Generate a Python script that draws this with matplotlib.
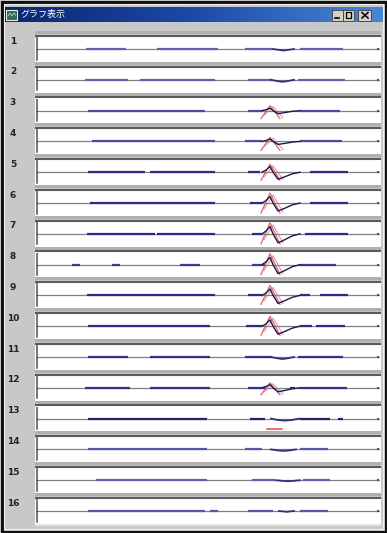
import matplotlib
matplotlib.use("Agg")
import matplotlib.pyplot as plt
from matplotlib.patches import Rectangle
import numpy as np

plt.rcParams['font.family'] = ['Noto Sans CJK JP', 'DejaVu Sans']

TITLE = "グラフ表示"
ROW_LABELS = ['1', '2', '3', '4', '5', '6', '7', '8',
              '9', '10', '11', '12', '13', '14', '15', '16']

# flat signal stretches on the baseline (start, end) per channel
SEGMENTS = [
    [(86, 126), (157, 218), (245, 272), (300, 343)],
    [(85, 128), (140, 215), (248, 272), (298, 345)],
    [(88, 205), (248, 262), (300, 340)],
    [(92, 215), (245, 262), (300, 342)],
    [(88, 145), (150, 215), (248, 260), (310, 348)],
    [(90, 215), (250, 262), (310, 348)],
    [(87, 155), (157, 215), (252, 262), (305, 348)],
    [(72, 80), (112, 120), (180, 200), (252, 265), (300, 336)],
    [(87, 215), (248, 262), (300, 310), (320, 348)],
    [(88, 210), (246, 262), (300, 312), (316, 345)],
    [(88, 128), (150, 210), (245, 272), (298, 343)],
    [(85, 130), (150, 210), (248, 265), (290, 295), (300, 347)],
    [(88, 207), (250, 265), (300, 330), (338, 343)],
    [(88, 207), (245, 262), (300, 328)],
    [(96, 207), (252, 275), (303, 330)],
    [(88, 205), (210, 218), (248, 273), (300, 328)],
]

# small negative dip after the event (start, end, depth) for quiet channels
DIPS = [(277, 290, 1.5), (275, 290, 2), None, None, None, None, None, None,
        None, None, (275, 290, 2), None, (275, 295, 2), (275, 292, 1.5),
        (280, 296, 1), (283, 290, 1)]

# evoked response per channel
RED_PEAK = [0, 0, 5, 4, 8, 10, 11, 11, 10, 10, 0, 5, 0, 0, 0, 0]
RED_DEPTH = [0, 0, 8, 9, 8, 10, 10, 10, 9, 9, 0, 7, 0, 0, 0, 0]
WAVE_AMP = [0, 0, 3, 3, 7, 8, 9, 9, 8, 8, 0, 4, 0, 0, 0, 0]

# response shapes read from channel 7
WAVE_DX = [0, 4, 8, 11, 16, 22, 30, 38]
WAVE_SHAPE = [0, 0.3, 0.8, 0, -1.0, -0.7, -0.25, 0]
RED_DX = [-9, 0, 10]
RED_DASH = {12: (267, 282, -10)}

SEG_COLORS = ['#6262ad', '#6262ad', '#4a4aa0', '#4a4aa0', '#2c2c8a', '#2c2c8a',
              '#2c2c8a', '#3a3a95', '#2c2c8a', '#2c2c8a', '#33338c', '#33338c',
              '#24246e', '#5656aa', '#6262b2', '#5656aa']

W, H = 387, 533
fig = plt.figure(figsize=(W / 100, H / 100), dpi=100)

bg = fig.add_axes([0, 0, 1, 1])
bg.set_xlim(0, W)
bg.set_ylim(H, 0)
bg.axis('off')

# window frame
bg.add_patch(Rectangle((0, 0), W, H, facecolor='#c8c8c8', edgecolor='none'))
bg.add_patch(Rectangle((1.5, 1.5), W - 3, H - 3, facecolor='none',
                       edgecolor='#111111', lw=2.2))
bg.add_patch(Rectangle((4, 4), W - 8, H - 8, facecolor='none',
                       edgecolor='#f0f0f0', lw=0.8))

# title bar
grad = np.linspace(0, 1, 256).reshape(1, -1)
cmap = matplotlib.colors.LinearSegmentedColormap.from_list(
    'tb', ['#0b2470', '#1c4aa8', '#4a86d6'])
bg.imshow(grad, cmap=cmap, aspect='auto', extent=(5, 383, 22, 7), zorder=2)
bg.add_patch(Rectangle((6, 9.5), 11, 10, facecolor='#2e6a52',
                       edgecolor='#e8e8e8', lw=0.8, zorder=3))
bg.plot([8, 10, 12, 14, 15.5], [16, 13, 16, 13, 15], color='#9fe0b0', lw=0.6, zorder=4)
bg.text(20, 15, TITLE, color='white', fontsize=6.5, va='center', ha='left', zorder=4)

for x0, w in [(332, 10.5), (343, 10.5), (358, 13)]:
    bg.add_patch(Rectangle((x0, 9.5), w, 11, facecolor='#d4d0c8',
                           edgecolor='#404040', lw=0.6, zorder=3))
bg.plot([334.5, 338.5], [18, 18], color='black', lw=1.2, zorder=4)
bg.add_patch(Rectangle((345.5, 12), 5.5, 6, facecolor='none', edgecolor='black',
                       lw=0.9, zorder=4))
bg.plot([362, 368], [12.5, 18], color='black', lw=1.1, zorder=4)
bg.plot([362, 368], [18, 12.5], color='black', lw=1.1, zorder=4)

x_left, x_right = 36, 380
for i, label in enumerate(ROW_LABELS):
    top = 35 + 30.8 * i
    # panel frame: shaded band above, dark top edge, light band below
    bg.add_patch(Rectangle((x_left - 1, top - 4), x_right - x_left + 2, 3,
                           facecolor='#b0b0b0', edgecolor='none'))
    bg.add_patch(Rectangle((x_left - 1, top), x_right - x_left + 2, 27,
                           facecolor='white', edgecolor='none'))
    bg.plot([x_left - 1, x_right + 1], [top + 0.8, top + 0.8], color='#5a5a5a',
            lw=1.5, solid_capstyle='butt')
    bg.add_patch(Rectangle((x_left - 1, top + 27), x_right - x_left + 2, 1.5,
                           facecolor='#e4e4e4', edgecolor='none'))
    bg.text(13, top + 6, label, fontsize=6.5, fontweight='bold', color='#222222',
            ha='center', va='center', family='DejaVu Sans')

    ax = fig.add_axes([x_left / W, 1 - (top + 27) / H,
                       (x_right - x_left) / W, 25 / H])
    ax.set_xlim(x_left, x_right)
    ax.set_ylim(-13, 12)
    ax.axis('off')
    ax.axhline(0, color='#808080', lw=0.9)
    ax.axvline(x_left + 0.5, ymin=0.1, ymax=1, color='#505050', lw=1.1)
    ax.plot([377, 379], [0, 0], color='#50506a', lw=1.6, solid_capstyle='butt')

    ax.hlines([0] * len(SEGMENTS[i]), [s for s, e in SEGMENTS[i]],
              [e for s, e in SEGMENTS[i]], color=SEG_COLORS[i], lw=1.6)

    if DIPS[i] is not None:
        s, e, d = DIPS[i]
        ax.plot([s - 4, s + 3, (s + e) / 2, e - 3, e + 4],
                [0, -0.7 * d, -d, -0.7 * d, 0], color='#30307a', lw=1.3)

    if RED_PEAK[i] > 0:
        c = 270
        ax.plot([c + dx for dx in RED_DX],
                [-RED_DEPTH[i], RED_PEAK[i], -RED_DEPTH[i]],
                color='#e04848', lw=0.9, alpha=0.85)
        ax.plot([c + 3 + dx for dx in RED_DX],
                [-RED_DEPTH[i] * 0.6, RED_PEAK[i] * 0.8, -RED_DEPTH[i] * 0.9],
                color='#d070a0', lw=0.8, alpha=0.7)
        ax.plot([262 + dx for dx in WAVE_DX],
                [WAVE_AMP[i] * v for v in WAVE_SHAPE],
                color='#1a1a4a', lw=1.0)

    if i in RED_DASH:
        s, e, y = RED_DASH[i]
        ax.plot([s, e], [y, y], color='#e04848', lw=1.1)

fig.savefig('out.png', dpi=100)
